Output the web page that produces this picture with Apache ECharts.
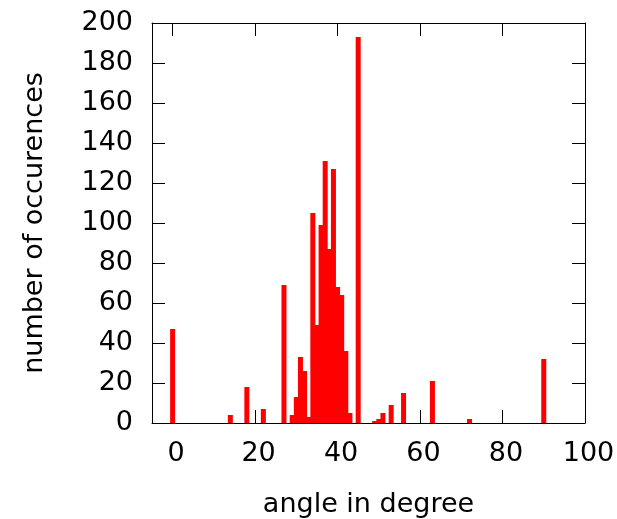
<!DOCTYPE html>
<html>
<head>
<meta charset="utf-8">
<script src="https://cdn.jsdelivr.net/npm/echarts@6/dist/echarts.min.js"></script>
<style>
html,body{margin:0;padding:0;background:#fff;}
#chart{width:617px;height:519px;}
</style>
</head>
<body>
<div id="chart"></div>
<script>
const angles = [0, 14, 18, 22, 27, 29, 30, 31, 32, 33, 34, 35, 36, 37, 38, 39, 40, 41, 42, 43, 45, 49, 50, 51, 53, 56, 63, 72, 90];
const counts = [47, 4, 18, 7, 69, 4, 13, 33, 26, 3, 105, 49, 99, 131, 87, 127, 68, 64, 36, 5, 193, 1, 2, 5, 9, 15, 21, 2, 32];
const xTicks = [0, 20, 40, 60, 80, 100];
const yTicks = [0, 20, 40, 60, 80, 100, 120, 140, 160, 180, 200];
const xTitle = 'angle in degree';
const yTitle = 'number of occurences';

const font = 'DejaVu Sans';
const fs = 27;
const chart = echarts.init(document.getElementById('chart'), null, {renderer: 'canvas'});
const tickStyle = {show: true, inside: true, length: 13, lineStyle: {color: '#000', width: 1}};
const lineStyle = {show: true, onZero: false, lineStyle: {color: '#000', width: 1}};
chart.setOption({
  animation: false,
  backgroundColor: '#fff',
  grid: {left: 152, top: 23, width: 433, height: 400, containLabel: false, outerBoundsMode: 'none', show: false},
  xAxis: [{
    type: 'value', min: -5, max: 100, position: 'bottom',
    axisLine: lineStyle,
    axisTick: Object.assign({customValues: xTicks}, tickStyle),
    axisLabel: {customValues: xTicks, fontFamily: font, fontSize: fs, color: '#000', margin: 17, padding: [0, 0, 0, 7]},
    splitLine: {show: false},
    name: xTitle, nameLocation: 'middle', nameGap: 68,
    nameTextStyle: {fontFamily: font, fontSize: 27, color: '#000'}
  }, {
    type: 'value', min: -5, max: 100, position: 'top',
    axisLine: lineStyle,
    axisTick: Object.assign({customValues: xTicks}, tickStyle),
    axisLabel: {show: false},
    splitLine: {show: false}
  }],
  yAxis: [{
    type: 'value', min: 0, max: 200, interval: 20, position: 'left',
    axisLine: lineStyle,
    axisTick: tickStyle,
    axisLabel: {customValues: yTicks, fontFamily: font, fontSize: fs, color: '#000', margin: 19},
    splitLine: {show: false},
    name: yTitle, nameLocation: 'middle', nameGap: 104, nameRotate: 90,
    nameTextStyle: {fontFamily: font, fontSize: 27, color: '#000'}
  }, {
    type: 'value', min: 0, max: 200, interval: 20, position: 'right',
    axisLine: lineStyle,
    axisTick: tickStyle,
    axisLabel: {show: false},
    splitLine: {show: false}
  }],
  series: [{
    type: 'bar',
    xAxisIndex: 0, yAxisIndex: 0,
    barWidth: 5,
    itemStyle: {color: '#ff0000'},
    data: angles.map((a, i) => [a, counts[i]])
  }]
});
</script>
</body>
</html>
